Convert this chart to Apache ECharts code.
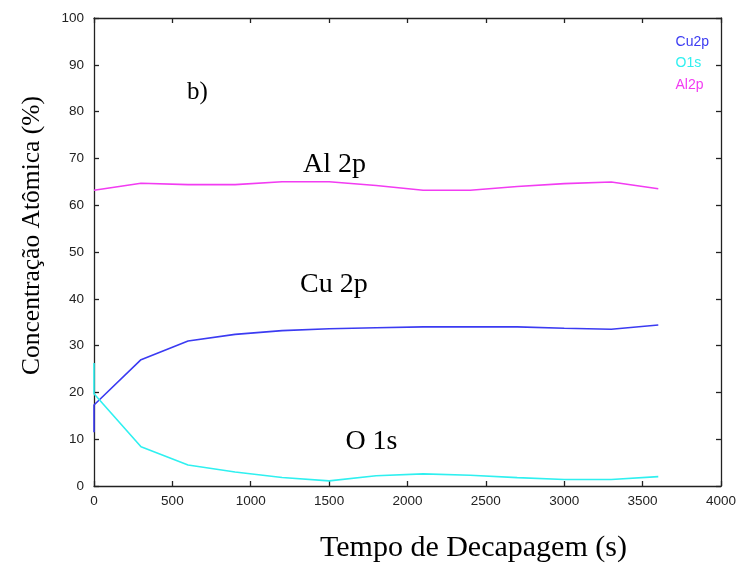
<!DOCTYPE html>
<html><head><meta charset="utf-8">
<script src="https://cdn.jsdelivr.net/npm/echarts@6/dist/echarts.min.js"></script>
<style>html,body{margin:0;padding:0;background:#fff}#c{width:739px;height:571px}</style>
</head><body><div id="c"></div>
<script>
const seriesNames = ['Cu2p', 'O1s', 'Al2p'];
const cuTime = [0, 0, 300, 600, 900, 1200, 1500, 1800, 2100, 2400, 2700, 3000, 3300, 3600];
const cuVal  = [11.5, 17.3, 27.0, 31.0, 32.4, 33.2, 33.6, 33.8, 34.0, 34.0, 34.0, 33.7, 33.5, 34.4];
const oTime  = [0, 0, 300, 600, 900, 1200, 1500, 1800, 2100, 2400, 2700, 3000, 3300, 3600];
const oVal   = [26.3, 19.7, 8.4, 4.5, 3.0, 1.8, 1.1, 2.2, 2.6, 2.3, 1.8, 1.4, 1.4, 2.0];
const alTime = [0, 300, 600, 900, 1200, 1500, 1800, 2100, 2400, 2700, 3000, 3300, 3600];
const alVal  = [63.2, 64.7, 64.4, 64.4, 65.0, 65.0, 64.2, 63.2, 63.2, 64.0, 64.6, 64.95, 63.5];
const xTicks = [0, 500, 1000, 1500, 2000, 2500, 3000, 3500, 4000];
const yTicks = [0, 10, 20, 30, 40, 50, 60, 70, 80, 90, 100];
const annotations = [
  {text: 'b)', x: 660, y: 84.2},
  {text: 'Al 2p', x: 1535, y: 68.6},
  {text: 'Cu 2p', x: 1530, y: 43.0},
  {text: 'O 1s', x: 1770, y: 9.4}
];

const colors = ['#3b3bf2', '#2ff0f0', '#f23cf2'];
const chart = echarts.init(document.getElementById('c'));
const pair = (t, v) => t.map((x, i) => [x, v[i]]);
const axisLine = {show: true, onZero: false, lineStyle: {color: '#222', width: 1.3}};
const tick = {show: true, inside: true, length: 5, lineStyle: {color: '#222', width: 1.3}};
const lbl = {color: '#222', fontFamily: 'Liberation Sans, Arial, sans-serif', fontSize: 13.5};

chart.setOption({
  animation: false,
  grid: {left: 94, right: 18, top: 18, bottom: 85},
  legend: {
    orient: 'vertical', right: 25, top: 30, itemGap: 7.5, itemWidth: 0, itemHeight: 0,
    icon: 'none', align: 'left', selectedMode: false,
    textStyle: {fontFamily: 'Liberation Sans, Arial, sans-serif', fontSize: 14, padding: 0},
    data: seriesNames.map((n, i) => ({name: n, textStyle: {color: colors[i]}}))
  },
  xAxis: [
    {type: 'value', position: 'bottom', min: 0, max: 4000, interval: 500,
     axisLine, axisTick: tick, splitLine: {show: false},
     axisLabel: Object.assign({margin: 8, formatter: v => String(v)}, lbl)},
    {type: 'value', position: 'top', min: 0, max: 4000, interval: 500,
     axisLine, axisTick: tick, splitLine: {show: false}, axisLabel: {show: false}}
  ],
  yAxis: [
    {type: 'value', position: 'left', min: 0, max: 100, interval: 10,
     axisLine, axisTick: tick, splitLine: {show: false},
     axisLabel: Object.assign({margin: 10, formatter: v => String(v)}, lbl)},
    {type: 'value', position: 'right', min: 0, max: 100, interval: 10,
     axisLine, axisTick: tick, splitLine: {show: false}, axisLabel: {show: false}}
  ],
  series: [
    {name: seriesNames[0], type: 'line', data: pair(cuTime, cuVal), showSymbol: false, symbol: 'none',
     lineStyle: {color: colors[0], width: 1.6}, itemStyle: {color: colors[0]}},
    {name: seriesNames[1], type: 'line', data: pair(oTime, oVal), showSymbol: false, symbol: 'none',
     lineStyle: {color: colors[1], width: 1.6}, itemStyle: {color: colors[1]}},
    {name: seriesNames[2], type: 'line', data: pair(alTime, alVal), showSymbol: false, symbol: 'none',
     lineStyle: {color: colors[2], width: 1.6}, itemStyle: {color: colors[2]},
     markPoint: {
       symbol: 'circle', symbolSize: 0, silent: true,
       label: {show: true, position: 'inside', color: '#000', fontFamily: 'Liberation Serif, Times New Roman, serif', fontSize: 27},
       data: annotations.map(a => ({coord: [a.x, a.y], value: a.text, label: {formatter: a.text, fontSize: a.text === 'b)' ? 25 : 28}}))
     }}
  ],
  graphic: [
    {type: 'text', left: 320, top: 533,
     style: {text: 'Tempo de Decapagem (s)', fill: '#000', font: '30px "Liberation Serif", "Times New Roman", serif'}},
    {type: 'text', x: 32, y: 375, rotation: Math.PI / 2,
     style: {text: 'Concentração Atômica (%)', fill: '#000', font: '25.5px "Liberation Serif", "Times New Roman", serif', align: 'left', verticalAlign: 'middle'}}
  ]
});
</script></body></html>
